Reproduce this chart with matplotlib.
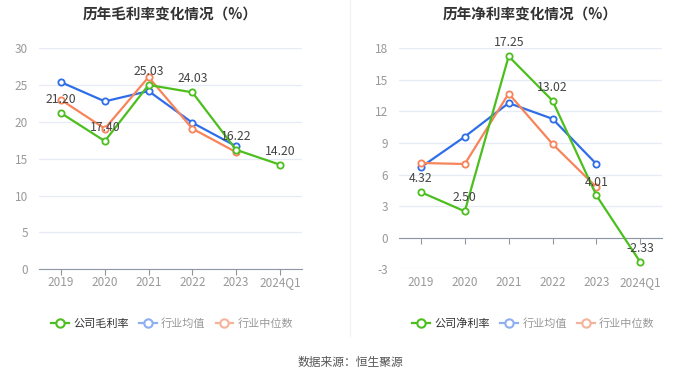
import matplotlib.pyplot as plt
import matplotlib.lines as mlines

plt.rcParams['font.family'] = ['Noto Sans CJK SC', 'DejaVu Sans']

# 数据
years = ['2019', '2020', '2021', '2022', '2023', '2024Q1']

gross_company = [21.20, 17.40, 25.03, 24.03, 16.22, 14.20]
gross_avg = [25.4, 22.8, 24.2, 19.9, 16.7]
gross_median = [23.0, 19.1, 26.1, 19.1, 15.9]

net_company = [4.32, 2.50, 17.25, 13.02, 4.01, -2.33]
net_avg = [6.7, 9.6, 12.8, 11.3, 7.0]
net_median = [7.1, 7.0, 13.7, 8.9, 4.8]

green = '#4cbf1f'
blue = '#2f6ee9'
orange = '#f7845a'
grid_c = '#e6ebf5'
tick_c = '#999999'


def draw(ax, title, comp, avg, med, yticks, legend_name, left_frac):
    x = list(range(len(years)))
    for vals, c in [(avg, blue), (med, orange), (comp, green)]:
        ax.plot(x[:len(vals)], vals, color=c, lw=1.6, marker='o', ms=4.5,
                mfc='white', mec=c, mew=1.3, zorder=3)
    for xi, v in zip(x, comp):
        ax.annotate(f'{v:.2f}', (xi, v), xytext=(0, 5), textcoords='offset points',
                    ha='center', va='bottom', fontsize=8.8, color='#444444', zorder=4)
    ax.set_xlim(-0.5, len(years) - 0.5)
    ax.set_ylim(yticks[0], yticks[-1])
    ax.set_yticks(yticks)
    ax.set_yticklabels([str(t) for t in yticks])
    ax.yaxis.grid(True, color=grid_c, lw=0.9)
    ax.set_axisbelow(True)
    for s in ['top', 'right', 'left']:
        ax.spines[s].set_visible(False)
    ax.spines['bottom'].set_position(('data', 0))
    ax.spines['bottom'].set_color('#8e95a3')
    ax.tick_params(axis='y', length=0, labelsize=8.5, labelcolor=tick_c, pad=8)
    ax.set_xticks(x)
    ax.tick_params(axis='x', length=4, color='#8e95a3', labelbottom=False)
    sec = ax.secondary_xaxis('bottom')
    sec.set_xticks(x)
    sec.set_xticklabels(years)
    sec.spines['bottom'].set_visible(False)
    sec.tick_params(length=0, labelsize=8.5, labelcolor=tick_c, pad=5)
    ax.set_title(title, fontsize=10.5, fontweight='bold', color='#333333', pad=21)

    handles = [
        mlines.Line2D([], [], color=green, marker='o', mfc='white', mec=green, lw=1.6, ms=6, mew=1.5),
        mlines.Line2D([], [], color='#8eaef2', marker='o', mfc='white', mec='#8eaef2', lw=1.6, ms=6, mew=1.5),
        mlines.Line2D([], [], color='#f6b39b', marker='o', mfc='white', mec='#f6b39b', lw=1.6, ms=6, mew=1.5),
    ]
    leg = ax.figure.legend(handles, [legend_name, '行业均值', '行业中位数'],
                           loc='center', bbox_to_anchor=(left_frac, 0.143), ncol=3,
                           frameon=False, fontsize=8, handlelength=1.6, handletextpad=0.4,
                           columnspacing=0.9)
    for t, c in zip(leg.get_texts(), ['#333333', tick_c, tick_c]):
        t.set_color(c)


fig = plt.figure(figsize=(7, 3.78), dpi=100)
ax1 = fig.add_axes([0.056, 0.288, 0.375, 0.584])
ax2 = fig.add_axes([0.570, 0.288, 0.376, 0.584])

draw(ax1, '历年毛利率变化情况（%）', gross_company, gross_avg, gross_median,
     [0, 5, 10, 15, 20, 25, 30], '公司毛利率', 0.246)
draw(ax2, '历年净利率变化情况（%）', net_company, net_avg, net_median,
     [-3, 0, 3, 6, 9, 12, 15, 18], '公司净利率', 0.762)

fig.add_artist(mlines.Line2D([0.5, 0.5], [0.11, 1.0], color='#f0f0f0', lw=0.8))
fig.text(0.5, 0.042, '数据来源：恒生聚源', ha='center', va='center', fontsize=8.5, color='#555555')

fig.savefig('out.png', dpi=100)
